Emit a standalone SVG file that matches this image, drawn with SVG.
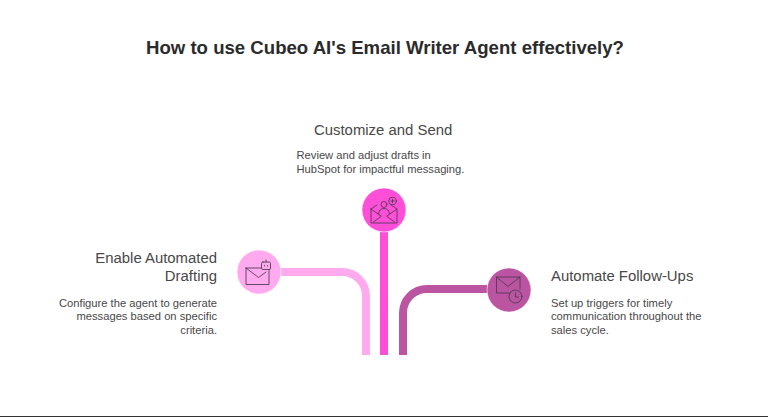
<svg xmlns="http://www.w3.org/2000/svg" width="768" height="417" viewBox="0 0 768 417">
<style>
text{font-family:"Liberation Sans",Arial,sans-serif;fill:#484848}
.t{font-size:14.9px}
.d{font-size:11.2px}
.r{text-anchor:end}
.c{fill:none;stroke-width:8;stroke-linejoin:round}
.h{stroke:#fff;stroke-opacity:.5;stroke-width:1}
.i{fill:none;stroke:#4a3a50;stroke-opacity:.85;stroke-width:1;stroke-linejoin:round;stroke-linecap:round}
</style>
<rect width="768" height="417" fill="#fff"/>
<text x="385" y="54" text-anchor="middle" style="font-size:18.6px;font-weight:700;fill:#2b2b2b">How to use Cubeo AI's Email Writer Agent effectively?</text>
<g id="connectors">
<path class="c" stroke="#ffaaee" d="M281 272H342A24 24 0 0 1 366 296V355"/>
<path class="c" stroke="#ff4fd8" d="M384 232V355"/>
<path class="c" stroke="#bb55a2" d="M487 289H427A24 24 0 0 0 403 313V355"/>
</g>
<g id="enable-automated-drafting">
<circle class="h" cx="259" cy="272" r="22" fill="#ffaaee"/>
<path class="i" d="M246 268H261M269 270V284.500H246V268M246 268L258.500 277.500L266 272"/>
<rect class="i" x="261.500" y="262" width="9" height="7.500" rx="1.500"/>
<path class="i" d="M266 262V260M264.500 265.500V266M267.500 265.500V266"/>
<text class="t r" x="217" y="263">Enable Automated</text>
<text class="t r" x="217" y="281">Drafting</text>
<text class="d r" x="217" y="307">Configure the agent to generate</text>
<text class="d r" x="217" y="320">messages based on specific</text>
<text class="d r" x="217" y="334">criteria.</text>
</g>
<g id="customize-and-send">
<circle class="h" cx="384" cy="210" r="22" fill="#ff4fd8"/>
<path class="i" d="M371 209V223H397V209L391 205M371 209L377 205M371 209L381 216M397 209L387 216M373.500 222L381 216.500M394.500 222L387 216.500"/>
<circle class="i" cx="384" cy="204.500" r="3"/>
<path class="i" d="M378.500 214Q379 208.500 384 208.500Q389 208.500 389.500 214"/>
<circle class="i" cx="392.500" cy="201" r="3.800"/>
<path class="i" d="M392.500 199.300V202.700M390.800 201H394.200"/>
<text class="t" x="314" y="135">Customize and Send</text>
<text class="d" x="296.500" y="159">Review and adjust drafts in</text>
<text class="d" x="296.500" y="173">HubSpot for impactful messaging.</text>
</g>
<g id="automate-follow-ups">
<circle class="h" cx="509" cy="290" r="22" fill="#bb55a2"/>
<path class="i" d="M509 293H496.500V277H520V289M496.500 277L508 286.500L520 277"/>
<circle class="i" cx="515.500" cy="296.500" r="6.500"/>
<path class="i" d="M515.500 293V297H518.500"/>
<text class="t" x="551" y="281">Automate Follow-Ups</text>
<text class="d" x="551" y="307">Set up triggers for timely</text>
<text class="d" x="551" y="320">communication throughout the</text>
<text class="d" x="551" y="334">sales cycle.</text>
</g>
<rect y="416" width="768" height="1" fill="#333"/>
</svg>
